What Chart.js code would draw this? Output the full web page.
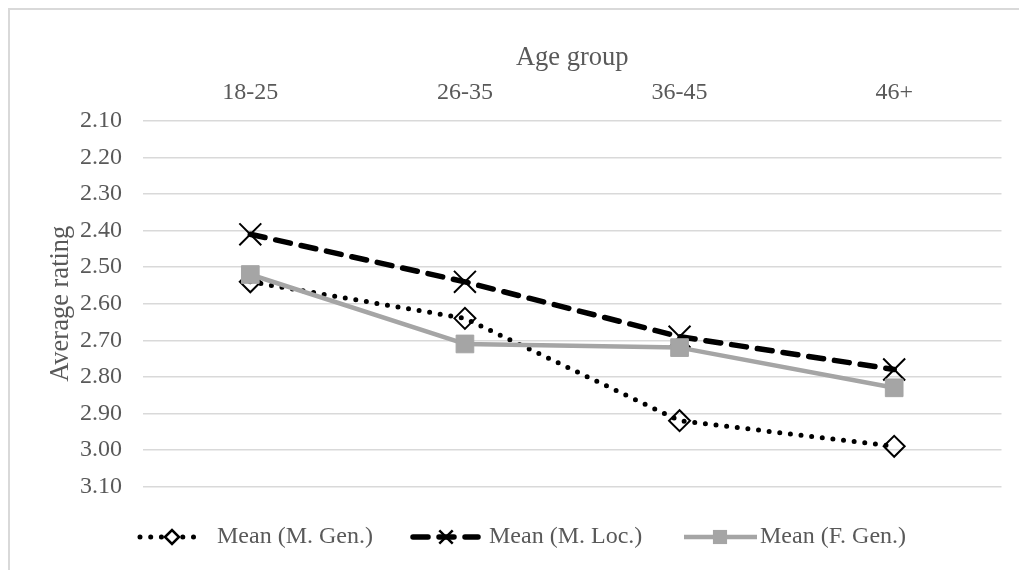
<!DOCTYPE html>
<html>
<head>
<meta charset="utf-8">
<script src="https://cdn.jsdelivr.net/npm/chart.js@4"></script>
<style>
  html, body { margin: 0; padding: 0; background: #ffffff; }
  #wrap { width: 1019px; height: 570px; position: relative; }
</style>
</head>
<body>
<div id="wrap"><canvas id="chart" width="1019" height="570"></canvas></div>
<script>
// Age groups along the top axis
const ageGroups = ['18-25', '26-35', '36-45', '46+'];

// Average ratings per group
const meanMGen = [2.54, 2.64, 2.92, 2.99];
const meanMLoc = [2.41, 2.54, 2.69, 2.78];
const meanFGen = [2.52, 2.71, 2.72, 2.83];

// Rating scale (shown reversed, low values on top)
const ratingMin = 2.1;
const ratingMax = 3.1;
const ratingStep = 0.1;

const seriesNames = ['Mean (M. Gen.)', 'Mean (M. Loc.)', 'Mean (F. Gen.)'];

const FONT = 'Liberation Serif, Times New Roman, serif';
const TEXT = '#595959';
const GRID = '#d9d9d9';
const GREY = '#a5a5a5';

const styles = [
  { color: '#000000', width: 5, dash: [0, 10.7], cap: 'round', point: 'rectRot', r: 10.5, pw: 2, fill: 'rgba(0,0,0,0)' },
  { color: '#000000', width: 5.5, dash: [15, 11], cap: 'round', point: 'crossRot', r: 15.5, pw: 2, fill: '#000000' },
  { color: GREY, width: 4.5, dash: [], cap: 'butt', point: 'rect', r: 12.5, pw: 1, fill: GREY }
];

// Light frame around the figure
const framePlugin = {
  id: 'frame',
  beforeDraw(chart) {
    const ctx = chart.ctx;
    ctx.save();
    ctx.fillStyle = '#ffffff';
    ctx.fillRect(0, 0, chart.width, chart.height);
    ctx.strokeStyle = GRID;
    ctx.lineWidth = 2;
    ctx.strokeRect(9, 9, 3000, 3000);
    ctx.restore();
  }
};

// Legend row under the plot: line sample with marker, then the series name
const legendPlugin = {
  id: 'lineLegend',
  afterDraw(chart) {
    const ctx = chart.ctx;
    const y = 537;
    const items = [
      { x0: 140, x1: 203, mx: 172, tx: 217, mr: 7 },
      { x0: 413, x1: 478, mx: 446, tx: 489, mr: 9.5 },
      { x0: 684, x1: 757, mx: 720, tx: 760, mr: 10 }
    ];
    items.forEach((it, i) => {
      const s = styles[i];
      ctx.save();
      ctx.strokeStyle = s.color;
      ctx.lineWidth = s.width;
      ctx.lineCap = s.cap;
      ctx.setLineDash(s.dash);
      ctx.beginPath();
      ctx.moveTo(it.x0, y);
      ctx.lineTo(it.x1, y);
      ctx.stroke();
      ctx.setLineDash([]);
      ctx.lineCap = 'butt';
      ctx.lineWidth = s.pw;
      ctx.beginPath();
      const r = it.mr;
      if (s.point === 'rectRot') {
        ctx.moveTo(it.mx - r, y);
        ctx.lineTo(it.mx, y - r);
        ctx.lineTo(it.mx + r, y);
        ctx.lineTo(it.mx, y + r);
        ctx.closePath();
        ctx.fillStyle = '#ffffff';
        ctx.fill();
        ctx.lineWidth = 2.5;
        ctx.stroke();
      } else if (s.point === 'crossRot') {
        const d = r * Math.SQRT1_2;
        ctx.lineWidth = 2.5;
        ctx.moveTo(it.mx - d, y - d);
        ctx.lineTo(it.mx + d, y + d);
        ctx.moveTo(it.mx - d, y + d);
        ctx.lineTo(it.mx + d, y - d);
        ctx.stroke();
      } else {
        const h = r * Math.SQRT1_2;
        ctx.fillStyle = s.fill;
        ctx.fillRect(it.mx - h, y - h, 2 * h, 2 * h);
      }
      ctx.fillStyle = TEXT;
      ctx.font = '24px ' + FONT;
      ctx.textAlign = 'left';
      ctx.textBaseline = 'middle';
      ctx.fillText(seriesNames[i], it.tx, y);
      ctx.restore();
    });
  }
};

const seriesData = [meanMGen, meanMLoc, meanFGen];
const datasets = seriesData.map((vals, i) => {
  const s = styles[i];
  return {
    label: seriesNames[i],
    data: vals,
    order: 2 - i,
    borderColor: s.color,
    borderWidth: s.width,
    borderDash: s.dash,
    borderCapStyle: s.cap,
    borderJoinStyle: 'round',
    tension: 0,
    fill: false,
    pointStyle: s.point,
    pointRadius: s.r,
    pointHoverRadius: s.r,
    pointBorderWidth: s.pw,
    pointBorderColor: s.color,
    pointBackgroundColor: s.fill
  };
});

new Chart(document.getElementById('chart'), {
  type: 'line',
  data: { labels: ageGroups, datasets },
  plugins: [framePlugin, legendPlugin],
  options: {
    responsive: false,
    animation: false,
    events: [],
    layout: { padding: { left: 0, top: 0, right: 15, bottom: 83.5 } },
    plugins: {
      legend: { display: false },
      tooltip: { enabled: false }
    },
    scales: {
      x: {
        position: 'top',
        offset: true,
        grid: { display: false, drawTicks: false },
        border: { display: false },
        ticks: { color: TEXT, font: { family: FONT, size: 24 }, padding: 13.6 },
        title: {
          display: true,
          text: 'Age group',
          color: TEXT,
          font: { family: FONT, size: 26.5, weight: 'normal' },
          padding: { top: 42.6, bottom: 0 }
        },
        afterFit(axis) { axis.height = 121; }
      },
      y: {
        reverse: true,
        min: ratingMin,
        max: ratingMax,
        grid: { color: GRID, lineWidth: 1.5, drawTicks: false },
        border: { display: false },
        ticks: {
          stepSize: ratingStep,
          color: TEXT,
          font: { family: FONT, size: 24 },
          padding: 21,
          callback: (v) => Number(v).toFixed(2)
        },
        title: {
          display: true,
          text: 'Average rating',
          color: TEXT,
          font: { family: FONT, size: 26.5, weight: 'normal' },
          padding: { top: 45, bottom: 0 }
        },
        afterFit(axis) { axis.width = 143; }
      }
    }
  }
});
</script>
</body>
</html>
